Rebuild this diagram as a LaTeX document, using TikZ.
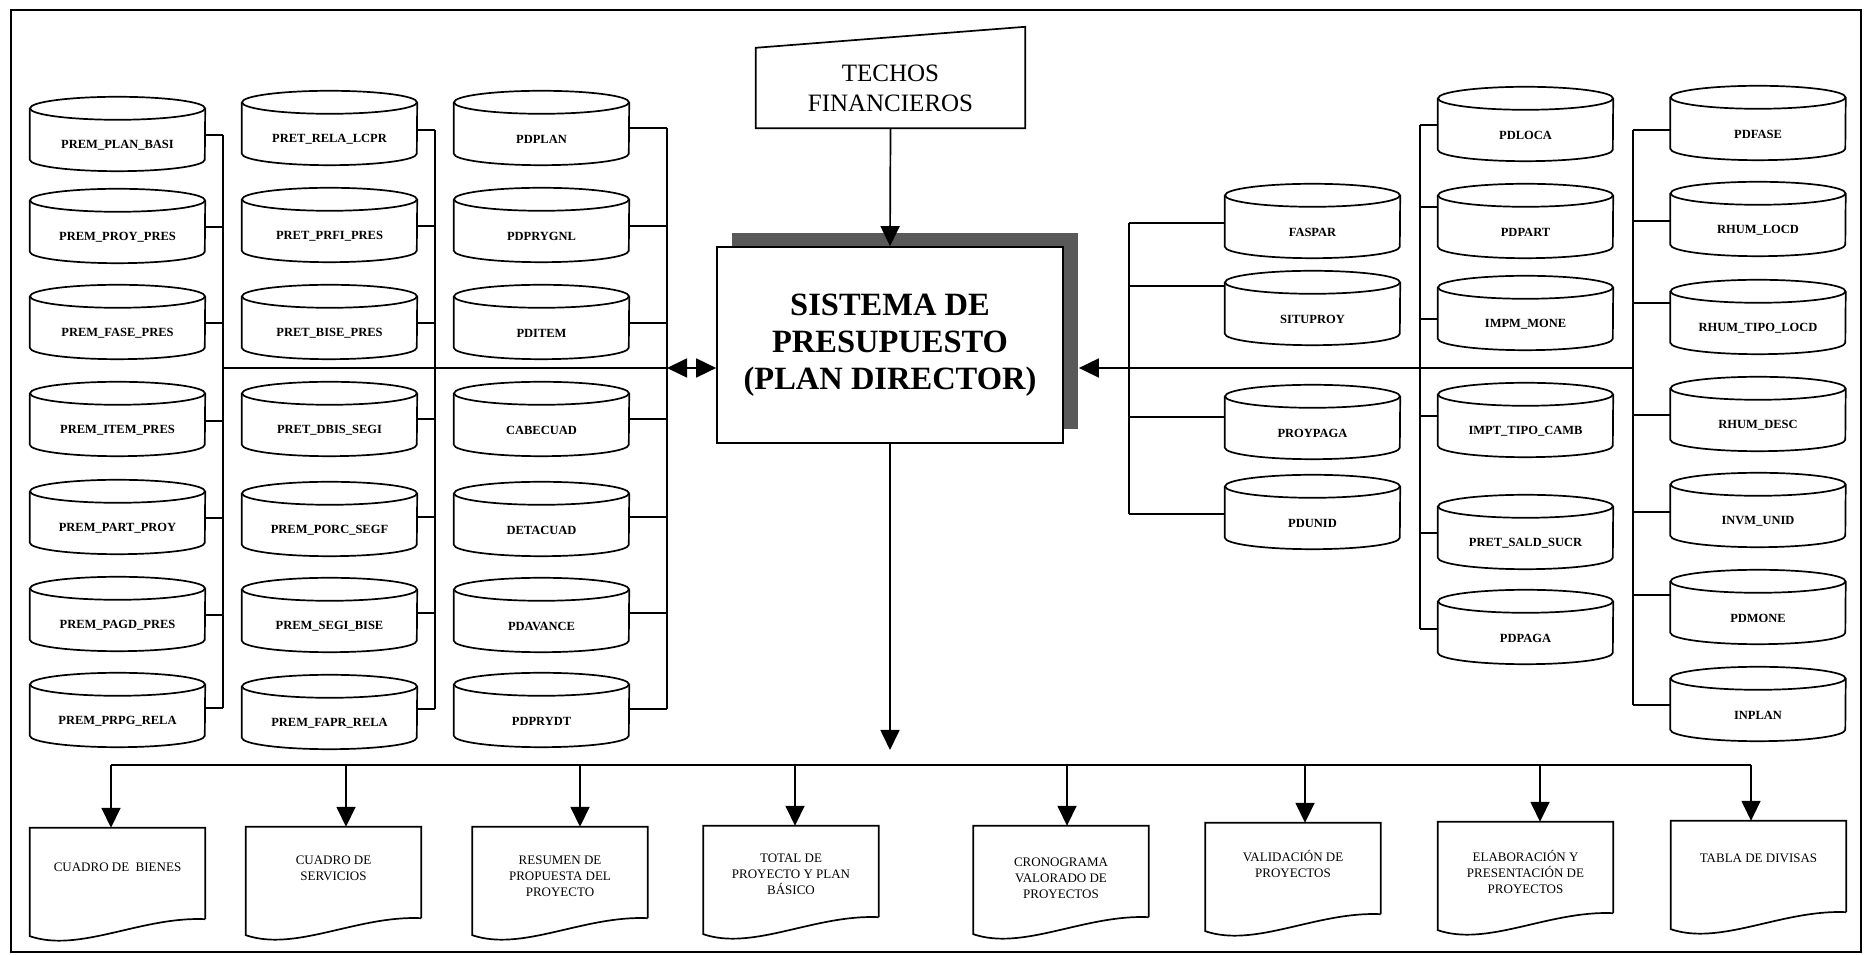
\documentclass[tikz,border=0pt]{standalone}
\usepackage{fontspec}
\setmainfont{Liberation Serif}
\usetikzlibrary{arrows.meta,shadows,calc}
\newcommand\mydbfont{\fontsize{12.5}{15}\selectfont\bfseries}
\newcommand\mydocfont{\fontsize{13}{16}\selectfont}
\tikzset{
  wire/.style={line width=1.7pt},
  arr/.style={wire,-{Triangle[length=20pt,width=19pt]}},
  dbline/.style={line width=1.7pt},
  dbbody/.style={rectangle,inner sep=0pt,minimum width=175pt,minimum height=51pt,font=\mydbfont},
  docbox/.style={rectangle,inner sep=0pt,minimum width=175pt,minimum height=91pt},
}
% name, cx, top (image y), label, anchor, connector (image y), bus x
\newcommand\dbcyl[7]{%
  \pgfmathsetmacro\dbY{955-#3-48.5}%
  \pgfmathsetmacro\dbK{955-#6}%
  \node[dbbody] (#1) at (#2,\dbY) {#4};
  \draw[dbline] ([yshift=11.5pt]#1.north west) -- ([yshift=11.5pt]#1.south west)
     arc[start angle=180,end angle=360,x radius=87.5pt,y radius=11.5pt]
     -- ([yshift=11.5pt]#1.north east);
  \draw[dbline] ([yshift=11.5pt]#1.north) ellipse[x radius=87.5pt,y radius=11.5pt];
  \coordinate (#1k) at (#7,\dbK);
  \draw[wire] (#1.#5 |- #1k) -- (#1k);
}
% name, cx, top (image y), text, text offset
\newcommand\docnode[5]{%
  \pgfmathsetmacro\dcY{955-#3-45.5}%
  \node[docbox,label={[name=#1t,anchor=north,yshift=-#5pt,align=center,font=\mydocfont,inner sep=0pt]north:{#4}}] (#1) at (#2,\dcY) {};
  \draw[wire] (#1.south east) -- (#1.north east) -- (#1.north west) -- ([yshift=-17pt]#1.south west)
     .. controls +(50pt,-17pt) and +(-64pt,3pt) .. (#1.south east);
}
\begin{document}
\begin{tikzpicture}[x=1pt,y=1pt]
\useasboundingbox (0,0) rectangle (1870,955);
\draw[line width=1.7pt] (11,3) rectangle (1861,945);

% central box
\node[draw,wire,fill=white,minimum width=346pt,minimum height=196pt,inner sep=0pt,align=center,
      font=\fontsize{32.5}{37}\selectfont\bfseries,
      general shadow={fill=black!65,shadow xshift=15pt,shadow yshift=14pt}] (main) at (890,610)
      {SISTEMA DE\\PRESUPUESTO\\(PLAN DIRECTOR)};
\coordinate (shE) at ([xshift=15pt]main.east);

% techos financieros (manual input)
\node[minimum width=269pt,minimum height=80pt,inner sep=0pt,align=center,
      font=\fontsize{25}{30}\selectfont] (techos) at (890.5,867) {TECHOS\\FINANCIEROS};
\draw[wire] (techos.south west) -- (techos.north west) -- ([yshift=21pt]techos.north east)
   -- (techos.south east) -- cycle;
\draw[arr] (techos.south) -- (main.north);

% left column 1
\dbcyl{c11}{117.5}{97}{PREM\_PLAN\_BASI}{east}{135}{223}
\dbcyl{c12}{117.5}{189}{PREM\_PROY\_PRES}{east}{227}{223}
\dbcyl{c13}{117.5}{285}{PREM\_FASE\_PRES}{east}{323}{223}
\dbcyl{c14}{117.5}{382}{PREM\_ITEM\_PRES}{east}{421}{223}
\dbcyl{c15}{117.5}{480}{PREM\_PART\_PROY}{east}{518}{223}
\dbcyl{c16}{117.5}{577}{PREM\_PAGD\_PRES}{east}{615}{223}
\dbcyl{c17}{117.5}{673}{PREM\_PRPG\_RELA}{east}{708}{223}
% left column 2
\dbcyl{c21}{329.5}{91}{PRET\_RELA\_LCPR}{east}{130}{435}
\dbcyl{c22}{329.5}{188}{PRET\_PRFI\_PRES}{east}{226}{435}
\dbcyl{c23}{329.5}{285}{PRET\_BISE\_PRES}{east}{323}{435}
\dbcyl{c24}{329.5}{382}{PRET\_DBIS\_SEGI}{east}{419}{435}
\dbcyl{c25}{329.5}{482}{PREM\_PORC\_SEGF}{east}{517}{435}
\dbcyl{c26}{329.5}{578}{PREM\_SEGI\_BISE}{east}{613}{435}
\dbcyl{c27}{329.5}{675}{PREM\_FAPR\_RELA}{east}{709}{435}
% left column 3
\dbcyl{c31}{541.5}{91}{PDPLAN}{east}{128}{667}
\dbcyl{c32}{541.5}{188}{PDPRYGNL}{east}{226}{667}
\dbcyl{c33}{541.5}{285}{PDITEM}{east}{323}{667}
\dbcyl{c34}{541.5}{382}{CABECUAD}{east}{419}{667}
\dbcyl{c35}{541.5}{482}{DETACUAD}{east}{517}{667}
\dbcyl{c36}{541.5}{578}{PDAVANCE}{east}{613}{667}
\dbcyl{c37}{541.5}{673}{PDPRYDT}{east}{709}{667}
% right column 1
\dbcyl{r11}{1312.5}{184}{FASPAR}{west}{223}{1129}
\dbcyl{r12}{1312.5}{271}{SITUPROY}{west}{286}{1129}
\dbcyl{r13}{1312.5}{385}{PROYPAGA}{west}{417}{1129}
\dbcyl{r14}{1312.5}{475}{PDUNID}{west}{514}{1129}
% right column 2
\dbcyl{r21}{1525.5}{87}{PDLOCA}{west}{125}{1420}
\dbcyl{r22}{1525.5}{184}{PDPART}{west}{207}{1420}
\dbcyl{r23}{1525.5}{276}{IMPM\_MONE}{west}{319}{1420}
\dbcyl{r24}{1525.5}{383}{IMPT\_TIPO\_CAMB}{west}{416}{1420}
\dbcyl{r25}{1525.5}{495}{PRET\_SALD\_SUCR}{west}{533}{1420}
\dbcyl{r26}{1525.5}{590}{PDPAGA}{west}{629}{1420}
% right column 3
\dbcyl{r31}{1758}{86}{PDFASE}{west}{130}{1633}
\dbcyl{r32}{1758}{182}{RHUM\_LOCD}{west}{221}{1633}
\dbcyl{r33}{1758}{280}{RHUM\_TIPO\_LOCD}{west}{303}{1633}
\dbcyl{r34}{1758}{377}{RHUM\_DESC}{west}{415}{1633}
\dbcyl{r35}{1758}{473}{INVM\_UNID}{west}{512}{1633}
\dbcyl{r36}{1758}{570}{PDMONE}{west}{595}{1633}
\dbcyl{r37}{1758}{667}{INPLAN}{west}{705}{1633}

% buses
\draw[wire] (c11k) -- (c17k);
\draw[wire] (c21k) -- (c27k);
\draw[wire] (c31k) -- (c37k);
\draw[wire] (r11k) -- (r14k);
\draw[wire] (r21k) -- (r26k);
\draw[wire] (r31k) -- (r37k);

\coordinate (b1m) at (223,587);
\coordinate (b3m) at (667,587);
\coordinate (r3m) at (1633,587);
\draw[wire] (b1m) -- (b3m);
\draw[wire,{Triangle[length=20pt,width=19pt]}-{Triangle[length=20pt,width=19pt]}] (b3m) -- (main.west |- b3m);
\draw[arr] (r3m) -- (shE |- r3m);

% output
\coordinate (dtip) at (890,205);
\draw[arr] (main.south) -- (dtip);

\docnode{d1}{117.5}{828}{CUADRO DE\ \ BIENES}{35}
\docnode{d2}{333.5}{827}{CUADRO DE\\SERVICIOS}{29}
\docnode{d3}{560}{827}{RESUMEN DE\\PROPUESTA DEL\\PROYECTO}{29}
\docnode{d4}{791}{826}{TOTAL DE\\PROYECTO Y PLAN\\BÁSICO}{28}
\docnode{d5}{1061}{826}{CRONOGRAMA\\VALORADO DE\\PROYECTOS}{32}
\docnode{d6}{1293}{823}{VALIDACIÓN DE\\PROYECTOS}{27}
\docnode{d7}{1525.5}{822}{ELABORACIÓN Y\\PRESENTACIÓN DE\\PROYECTOS}{28}
\docnode{d8}{1758.5}{821}{TABLA DE DIVISAS}{33}

\coordinate (t1) at (111,190);
\coordinate (t2) at (346,190);
\coordinate (t3) at (580,190);
\coordinate (t4) at (795,190);
\coordinate (t5) at (1067,190);
\coordinate (t6) at (1305,190);
\coordinate (t7) at (1540,190);
\coordinate (t8) at (1751,190);
\draw[wire] (t1) -- (t8);
\foreach \i in {1,...,8} {\draw[arr] (t\i) -- (t\i |- d\i.north);}
\end{tikzpicture}
\end{document}
